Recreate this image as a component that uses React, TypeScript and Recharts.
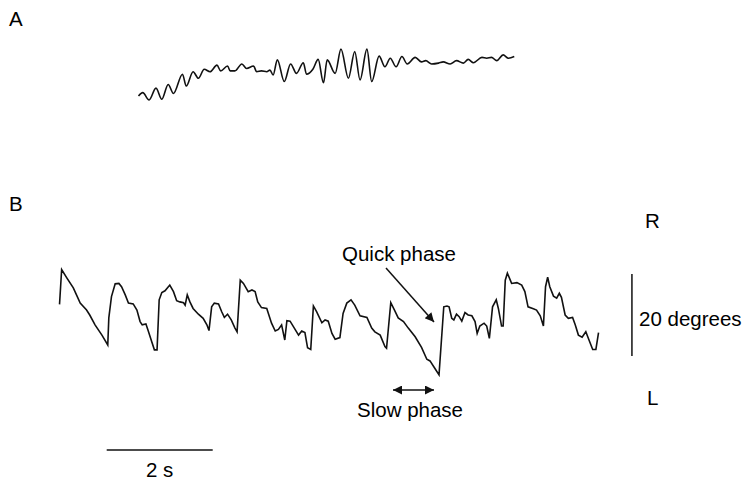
import { Line, LineChart, ReferenceLine, XAxis, YAxis } from 'recharts';

// trace A: time (s) and eye position (degrees, + = right)
const traceATime = [
  1.5, 1.58, 1.7, 1.83, 1.94, 2.06, 2.16, 2.33, 2.4, 2.53, 2.63, 2.74, 2.85, 2.98, 3.05, 3.18, 3.23,
  3.32, 3.45, 3.54, 3.67, 3.73, 3.82, 3.92, 3.98, 4.04, 4.12, 4.25, 4.37, 4.48, 4.61, 4.67, 4.79,
  4.89, 4.99, 5.06, 5.21, 5.32, 5.46, 5.58, 5.68, 5.81, 5.9, 6.04, 6.15, 6.25, 6.36, 6.47, 6.57,
  6.72, 6.84, 6.92, 7.03, 7.16, 7.25, 7.38, 7.5, 7.63, 7.72, 7.82, 7.98, 8.07, 8.16, 8.26, 8.38,
  8.48, 8.59,
];
const traceADeg = [
  -5.1, -4.3, -6.1, -3.2, -5.9, -2.3, -4.5, 0.2, -2.7, 0.8, -0.8, 1.4, 0.8, 2.4, 1.0, 2.2, 1.0,
  1.0, 2.7, 1.6, 2.2, 0.8, 1.0, 0.8, 1.2, 0, 3.7, -1.6, 2.7, 0.4, 3.0, 0.2, 1.4,
  3.8, -1.9, 3.7, 0.4, 6.3, -0.8, 5.7, -1.2, 6.3, -1.6, 4.6, 2.0, 4.1, 2.0, 4.5, 2.7,
  4.3, 3.2, 3.5, 2.7, 2.9, 3.2, 2.7, 3.5, 2.9, 3.8, 3.0, 4.3, 4.1, 4.3, 3.5, 4.9,
  4.1, 4.5,
];

// trace B: time (s) and eye position (degrees, + = right)
const traceBTime = [
  0.01, 0.05, 0.15, 0.27, 0.33, 0.4, 0.52, 0.58, 0.68, 0.81, 0.92, 0.94, 0.99, 1.06, 1.13, 1.18,
  1.25, 1.31, 1.4, 1.47, 1.53, 1.57, 1.64, 1.68, 1.75, 1.8, 1.85, 1.89, 1.94, 2.0, 2.09, 2.16,
  2.22, 2.28, 2.35, 2.38, 2.42, 2.47, 2.53, 2.63, 2.72, 2.79, 2.83, 2.88, 2.93, 3.01, 3.07, 3.12,
  3.18, 3.25, 3.32, 3.36, 3.42, 3.48, 3.57, 3.64, 3.7, 3.75, 3.82, 3.92, 4.01, 4.08, 4.14, 4.2,
  4.26, 4.3, 4.36, 4.44, 4.52, 4.58, 4.64, 4.69, 4.75, 4.8, 4.86, 4.96, 5.02, 5.08, 5.15, 5.21,
  5.3, 5.36, 5.43, 5.51, 5.58, 5.68, 5.81, 5.9, 5.96, 6.06, 6.15, 6.18, 6.26, 6.33, 6.4, 6.5,
  6.59, 6.72, 6.84, 6.94, 7.0, 7.09, 7.17, 7.26, 7.32, 7.36, 7.41, 7.45, 7.5, 7.55, 7.6, 7.66,
  7.72, 7.79, 7.85, 7.89, 7.94, 8.02, 8.07, 8.12, 8.18, 8.25, 8.29, 8.35, 8.38, 8.42, 8.46, 8.54,
  8.64, 8.73, 8.79, 8.85, 8.95, 9.01, 9.08, 9.14, 9.18, 9.22, 9.26, 9.33, 9.39, 9.44, 9.48, 9.55,
  9.61, 9.69, 9.74, 9.8, 9.87, 9.94, 10.0, 10.07, 10.13, 10.18,
];
const traceBDeg = [
  2.6, 11.1, 9.0, 6.6, 4.9, 2.9, 1.2, 0, -2.4, -4.9, -7.3, -0.7, 4.5, 7.6, 7.7, 6.9,
  4.9, 2.9, 2.7, 1.2, -1.6, -2.4, -2.2, -3.7, -6.5, -8.5, -8.5, 3.7, 5.5, 5.9, 7.3, 5.7,
  3.5, 3.2, 3.0, 2.4, 4.9, 3.2, 1.6, 0.2, -0.8, -2.4, -3.8, 2.0, 2.9, 2.7, 0.8, -0.6,
  0.2, -1.2, -3.2, -4.1, 8.5, 7.7, 5.7, 6.1, 5.7, 3.2, 1.8, 1.6, -2.0, -3.9, -3.5, -2.4,
  -6.1, -1.4, -1.5, -3.2, -4.9, -3.9, -4.3, -8.0, -8.4, 2.2, 0.8, -1.9, -1.2, -1.5, -4.5, -5.9,
  -5.5, 0.4, 2.9, 3.7, 2.4, -0.2, -0.6, -3.2, -4.1, -4.9, -7.7, -8.1, 3.0, 1.2, -0.7, -1.6,
  -3.2, -5.3, -7.9, -10.8, -11.2, -13.0, -14.6, 2.0, 2.2, 2.0, -0.8, -1.2, 0.2, -0.4, -1.5, 0.6,
  0, -0.2, -1.6, -4.5, -2.7, -2.0, -2.7, -5.7, 2.0, 3.7, 1.6, -2.7, -2.7, 8.5, 10.2, 7.7,
  7.9, 7.3, 5.7, 2.0, 1.5, 1.2, -0.2, -2.7, 6.9, 9.2, 6.9, 4.6, 4.1, 5.3, 4.3, 0,
  -0.8, -0.6, -2.4, -4.9, -5.4, -4.1, -6.1, -8.4, -8.4, -4.3,
];

// calibration bars
const timeBar = [0.9, 2.9]; // 2 s
const degBar = [-10, 10]; // 20 degrees

const W = 742;
const H = 480;
const PX_PER_S = 53;
const PX_PER_DEG = 4.1;
const T0_PX = 59;
const A_ZERO_PX = 75;
const B_ZERO_PX = 315;

const xDomain = [-T0_PX / PX_PER_S, (W - T0_PX) / PX_PER_S];
const aDomain = [(A_ZERO_PX - H) / PX_PER_DEG, A_ZERO_PX / PX_PER_DEG];
const bDomain = [(B_ZERO_PX - H) / PX_PER_DEG, B_ZERO_PX / PX_PER_DEG];

const traceA = traceATime.map((t, i) => ({ t, deg: traceADeg[i] }));
const traceB = traceBTime.map((t, i) => ({ t, deg: traceBDeg[i] }));

const font = '"Liberation Sans", Arial, sans-serif';
const textStyle = { fontFamily: font, fontSize: 20.5, fill: '#000' };

export default function App() {
  return (
    <div style={{ position: 'absolute', left: 0, top: 0, width: W, height: H, background: '#fff' }}>
      <LineChart width={W} height={H} margin={{ top: 0, right: 0, bottom: 0, left: 0 }}>
        <XAxis type="number" dataKey="t" domain={xDomain} allowDataOverflow hide />
        <YAxis yAxisId="a" type="number" domain={aDomain} allowDataOverflow hide />
        <YAxis yAxisId="b" type="number" domain={bDomain} allowDataOverflow hide />
        <Line
          yAxisId="a"
          data={traceA}
          dataKey="deg"
          type="monotone"
          stroke="#111"
          strokeWidth={1.6}
          dot={false}
          activeDot={false}
          isAnimationActive={false}
        />
        <Line
          yAxisId="b"
          data={traceB}
          dataKey="deg"
          type="linear"
          stroke="#111"
          strokeWidth={1.6}
          dot={false}
          activeDot={false}
          isAnimationActive={false}
        />
        <ReferenceLine
          yAxisId="b"
          segment={[{ x: timeBar[0], y: -32.9 }, { x: timeBar[1], y: -32.9 }]}
          stroke="#111"
          strokeWidth={1.5}
        />
        <ReferenceLine
          yAxisId="b"
          segment={[{ x: 10.81, y: degBar[0] }, { x: 10.81, y: degBar[1] }]}
          stroke="#111"
          strokeWidth={1.5}
        />
      </LineChart>
      <svg width={W} height={H} style={{ position: 'absolute', left: 0, top: 0, pointerEvents: 'none' }}>
        <defs>
          <marker id="head" viewBox="0 0 10 10" refX="10" refY="5" markerWidth="7" markerHeight="6" orient="auto-start-reverse">
            <path d="M0,0 L10,5 L0,10 z" fill="#111" />
          </marker>
        </defs>
        <text x={9} y={26} style={textStyle}>A</text>
        <text x={9} y={211} style={textStyle}>B</text>
        <text x={645} y={228} style={textStyle}>R</text>
        <text x={647} y={405} style={textStyle}>L</text>
        <text x={639} y={326} style={textStyle}>20 degrees</text>
        <text x={342} y={261} style={textStyle}>Quick phase</text>
        <text x={357} y={417} style={textStyle}>Slow phase</text>
        <text x={146} y={477} style={textStyle}>2 s</text>
        <line x1={386} y1={268} x2={434} y2={322} stroke="#111" strokeWidth={1.5} markerEnd="url(#head)" />
        <line x1={393} y1={390} x2={434} y2={390} stroke="#111" strokeWidth={1.5} markerStart="url(#head)" markerEnd="url(#head)" />
      </svg>
    </div>
  );
}
